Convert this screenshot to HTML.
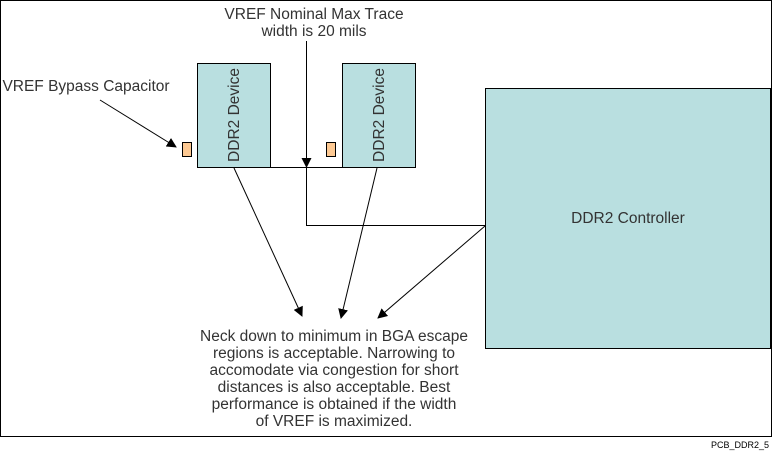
<!DOCTYPE html>
<html><head><style>
body{margin:0;background:#fff;}
svg{display:block;font-family:"Liberation Sans",Arial,sans-serif;}
</style></head><body>
<svg width="773" height="451" viewBox="0 0 773 451">
<defs><marker id="a" markerWidth="10" markerHeight="10" refX="9" refY="5" orient="auto" markerUnits="userSpaceOnUse"><path d="M0,0 L10,5 L0,10 z" fill="#000"/></marker></defs>
<rect x="0.5" y="0.5" width="771" height="436" fill="none" stroke="#000"/>
<rect x="197.5" y="63.5" width="73" height="104" fill="#b9dfe0" stroke="#000"/>
<rect x="342.5" y="63.5" width="73" height="104" fill="#b9dfe0" stroke="#000"/>
<rect x="485.5" y="88.5" width="285" height="260" fill="#b9dfe0" stroke="#000"/>
<rect x="182.5" y="142.5" width="9" height="14" fill="#fdc993" stroke="#000"/>
<rect x="326.5" y="142.5" width="9" height="14" fill="#fdc993" stroke="#000"/>
<g font-size="15.5" fill="#333">
<text transform="translate(239,115) rotate(-90)" text-anchor="middle">DDR2 Device</text>
<text transform="translate(384,115) rotate(-90)" text-anchor="middle">DDR2 Device</text>
<text x="628" y="223" text-anchor="middle">DDR2 Controller</text>
</g>
<line x1="270" y1="167.5" x2="342" y2="167.5" stroke="#000"/>
<polyline points="306.5,167 306.5,225.5 485,225.5" fill="none" stroke="#000"/>
<line x1="306.5" y1="41" x2="306.5" y2="167" stroke="#000" marker-end="url(#a)"/>
<line x1="100" y1="100" x2="176" y2="147" stroke="#000" marker-end="url(#a)"/>
<line x1="234" y1="168" x2="302" y2="316" stroke="#000" marker-end="url(#a)"/>
<line x1="377" y1="168" x2="341" y2="318" stroke="#000" marker-end="url(#a)"/>
<line x1="485" y1="226" x2="378" y2="318" stroke="#000" marker-end="url(#a)"/>
<g font-size="15.5" fill="#333" text-anchor="middle">
<text x="314" y="19">VREF Nominal Max Trace</text>
<text x="314" y="36">width is 20 mils</text>
<text x="86" y="91">VREF Bypass Capacitor</text>
<text x="334" y="341">Neck down to minimum in BGA escape</text>
<text x="334" y="358">regions is acceptable. Narrowing to</text>
<text x="334" y="375">accomodate via congestion for short</text>
<text x="334" y="392">distances is also acceptable. Best</text>
<text x="334" y="409">performance is obtained if the width</text>
<text x="334" y="426">of VREF is maximized.</text>
</g>
<text x="769" y="448" text-anchor="end" font-size="9" fill="#000">PCB_DDR2_5</text>
</svg>
</body></html>
